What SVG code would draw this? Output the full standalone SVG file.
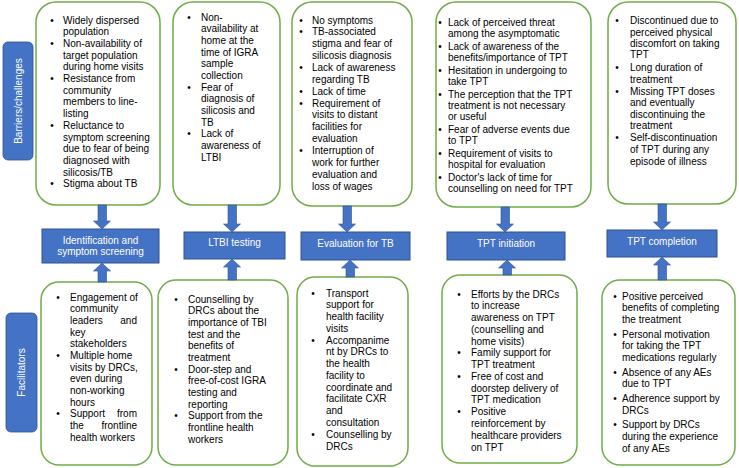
<svg xmlns="http://www.w3.org/2000/svg" width="739" height="468" viewBox="0 0 739 468">
<style>
.box{fill:#fff;stroke:#70AD47;stroke-width:1.5}
.stage{fill:#4472C4;stroke:#2F528F;stroke-width:1}
.side{fill:#4472C4;stroke:#2F528F;stroke-width:0.8}
.arr{fill:#4472C4;stroke:#2F528F;stroke-width:0.6}
text{font-family:"Liberation Sans",Arial,sans-serif;font-size:10px;fill:#000}
.w{fill:#fff}
.c{text-anchor:middle}
.e{text-anchor:end}
.b{text-anchor:middle}
</style>
<rect width="739" height="468" fill="#fff"/>

<g id="label-barriers">
<rect class="side" x="3" y="42" width="30" height="118" rx="5"/>
<text class="w c" transform="translate(21.5,101) rotate(-90)">Barriers/challenges</text>
</g>
<g id="label-facilitators">
<rect class="side" x="6" y="313" width="31" height="119" rx="5"/>
<text class="w c" transform="translate(25,372.5) rotate(-90)">Facilitators</text>
</g>

<g id="barrier-1">
<rect class="box" x="36" y="2" width="124" height="203" rx="20"/>
<text class="b" x="52" y="23.5">•</text><text class="b" x="52" y="46.9">•</text><text class="b" x="52" y="82">•</text><text class="b" x="52" y="128.8">•</text><text class="b" x="52" y="187.3">•</text>
<text x="63" y="23.5">Widely dispersed</text>
<text x="63" y="35.2">population</text>
<text x="63" y="46.9">Non-availability of</text>
<text x="63" y="58.6">target population</text>
<text x="63" y="70.3">during home visits</text>
<text x="63" y="82">Resistance from</text>
<text x="63" y="93.7">community</text>
<text x="63" y="105.4">members to line-</text>
<text x="63" y="117.1">listing</text>
<text x="63" y="128.8">Reluctance to</text>
<text x="63" y="140.5">symptom screening</text>
<text x="63" y="152.2">due to fear of being</text>
<text x="63" y="163.9">diagnosed with</text>
<text x="63" y="175.6">silicosis/TB</text>
<text x="63" y="187.3">Stigma about TB</text>
</g>

<g id="barrier-2">
<rect class="box" x="173" y="2" width="107" height="203" rx="20"/>
<text class="b" x="189" y="20.5">•</text><text class="b" x="189" y="90.5">•</text><text class="b" x="189" y="137.2">•</text>
<text x="201" y="20.5">Non-</text>
<text x="201" y="32.2">availability at</text>
<text x="201" y="43.8">home at the</text>
<text x="201" y="55.5">time of IGRA</text>
<text x="201" y="67.2">sample</text>
<text x="201" y="78.9">collection</text>
<text x="201" y="90.5">Fear of</text>
<text x="201" y="102.2">diagnosis of</text>
<text x="201" y="113.9">silicosis and</text>
<text x="201" y="125.5">TB</text>
<text x="201" y="137.2">Lack of</text>
<text x="201" y="148.9">awareness of</text>
<text x="201" y="160.5">LTBI</text>
</g>

<g id="barrier-3">
<rect class="box" x="292" y="2" width="120" height="204" rx="20"/>
<text class="b" x="301" y="23.5">•</text><text class="b" x="301" y="35.4">•</text><text class="b" x="301" y="71">•</text><text class="b" x="301" y="94.7">•</text><text class="b" x="301" y="106.5">•</text><text class="b" x="301" y="154">•</text>
<text x="312" y="23.5">No symptoms</text>
<text x="312" y="35.4">TB-associated</text>
<text x="312" y="47.2">stigma and fear of</text>
<text x="312" y="59.1">silicosis diagnosis</text>
<text x="312" y="71">Lack of awareness</text>
<text x="312" y="82.8">regarding TB</text>
<text x="312" y="94.7">Lack of time</text>
<text x="312" y="106.5">Requirement of</text>
<text x="312" y="118.4">visits to distant</text>
<text x="312" y="130.2">facilities for</text>
<text x="312" y="142.1">evaluation</text>
<text x="312" y="154">Interruption of</text>
<text x="312" y="165.8">work for further</text>
<text x="312" y="177.7">evaluation and</text>
<text x="312" y="189.5">loss of wages</text>
</g>

<g id="barrier-4">
<rect class="box" x="436" y="2" width="155" height="205" rx="20"/>
<text class="b" x="440" y="26">•</text><text class="b" x="440" y="50">•</text><text class="b" x="440" y="74">•</text><text class="b" x="440" y="98">•</text><text class="b" x="440" y="133">•</text><text class="b" x="440" y="157">•</text><text class="b" x="440" y="181">•</text>
<text x="448" y="26">Lack of perceived threat</text>
<text x="448" y="37">among the asymptomatic</text>
<text x="448" y="50">Lack of awareness of the</text>
<text x="448" y="61">benefits/importance of TPT</text>
<text x="448" y="74">Hesitation in undergoing to</text>
<text x="448" y="85">take TPT</text>
<text x="448" y="98">The perception that the TPT</text>
<text x="448" y="109">treatment is not necessary</text>
<text x="448" y="120">or useful</text>
<text x="448" y="133">Fear of adverse events due</text>
<text x="448" y="144">to TPT</text>
<text x="448" y="157">Requirement of visits to</text>
<text x="448" y="168">hospital for evaluation</text>
<text x="448" y="181">Doctor's lack of time for</text>
<text x="448" y="192">counselling on need for TPT</text>
</g>

<g id="barrier-5">
<rect class="box" x="608" y="2" width="128" height="202" rx="20"/>
<text class="b" x="617" y="23.5">•</text><text class="b" x="617" y="71.2">•</text><text class="b" x="617" y="95.2">•</text><text class="b" x="617" y="140.8">•</text>
<text x="630" y="23.5">Discontinued due to</text>
<text x="630" y="35.8">perceived physical</text>
<text x="630" y="46.8">discomfort on taking</text>
<text x="630" y="57.8">TPT</text>
<text x="630" y="71.2">Long duration of</text>
<text x="630" y="82.5">treatment</text>
<text x="630" y="95.2">Missing TPT doses</text>
<text x="630" y="106.2">and eventually</text>
<text x="630" y="117.5">discontinuing the</text>
<text x="630" y="128.5">treatment</text>
<text x="630" y="140.8">Self-discontinuation</text>
<text x="630" y="152.5">of TPT during any</text>
<text x="630" y="165.2">episode of illness</text>
</g>

<g id="stage-1">
<rect class="stage" x="42" y="229" width="117" height="34"/>
<text class="w c" x="100.5" y="243.5">Identification and</text>
<text class="w c" x="100.5" y="255">symptom screening</text>
</g>
<g id="stage-2">
<rect class="stage" x="184" y="232" width="101" height="27"/>
<text class="w c" x="234.5" y="246">LTBI testing</text>
</g>
<g id="stage-3">
<rect class="stage" x="301" y="232" width="109" height="28"/>
<text class="w c" x="355.5" y="246.5">Evaluation for TB</text>
</g>
<g id="stage-4">
<rect class="stage" x="447" y="232" width="118" height="28"/>
<text class="w c" x="506" y="246.5">TPT initiation</text>
</g>
<g id="stage-5">
<rect class="stage" x="607" y="230" width="110" height="27"/>
<text class="w c" x="662" y="244.5">TPT completion</text>
</g>

<g id="facilitator-1">
<rect class="box" x="41" y="282" width="111" height="183" rx="18"/>
<text class="b" x="58" y="300.5">•</text><text class="b" x="58" y="358.9">•</text><text class="b" x="58" y="417.2">•</text>
<text x="70" y="300.5">Engagement of</text>
<text x="70" y="312.2">community</text>
<text x="70" y="323.8">leaders</text><text class="e" x="137" y="323.8">and</text>
<text x="70" y="335.5">key</text>
<text x="70" y="347.2">stakeholders</text>
<text x="70" y="358.9">Multiple home</text>
<text x="70" y="370.5">visits by DRCs,</text>
<text x="70" y="382.2">even during</text>
<text x="70" y="393.9">non-working</text>
<text x="70" y="405.5">hours</text>
<text x="70" y="417.2">Support</text><text class="e" x="137" y="417.2">from</text>
<text x="70" y="428.9">the</text><text class="e" x="137" y="428.9">frontline</text>
<text x="70" y="440.5">health workers</text>
</g>

<g id="facilitator-2">
<rect class="box" x="158" y="280" width="130" height="185" rx="18"/>
<text class="b" x="176" y="302.5">•</text><text class="b" x="176" y="372.5">•</text><text class="b" x="176" y="419.2">•</text>
<text x="188" y="302.5">Counselling by</text>
<text x="188" y="314.2">DRCs about the</text>
<text x="188" y="325.8">importance of TBI</text>
<text x="188" y="337.5">test and the</text>
<text x="188" y="349.2">benefits of</text>
<text x="188" y="360.9">treatment</text>
<text x="188" y="372.5">Door-step and</text>
<text x="188" y="384.2">free-of-cost IGRA</text>
<text x="188" y="395.9">testing and</text>
<text x="188" y="407.5">reporting</text>
<text x="188" y="419.2">Support from the</text>
<text x="188" y="430.9">frontline health</text>
<text x="188" y="442.5">workers</text>
</g>

<g id="facilitator-3">
<rect class="box" x="297" y="277" width="111" height="189" rx="18"/>
<text class="b" x="313" y="296.5">•</text><text class="b" x="313" y="343.6">•</text><text class="b" x="313" y="437.7">•</text>
<text x="326" y="296.5">Transport</text>
<text x="326" y="308.3">support for</text>
<text x="326" y="320">health facility</text>
<text x="326" y="331.8">visits</text>
<text x="326" y="343.6">Accompanime</text>
<text x="326" y="355.4">nt by DRCs to</text>
<text x="326" y="367.1">the health</text>
<text x="326" y="378.9">facility to</text>
<text x="326" y="390.7">coordinate and</text>
<text x="326" y="402.4">facilitate CXR</text>
<text x="326" y="414.2">and</text>
<text x="326" y="426">consultation</text>
<text x="326" y="437.7">Counselling by</text>
<text x="326" y="449.5">DRCs</text>
</g>

<g id="facilitator-4">
<rect class="box" x="442" y="275" width="135" height="188" rx="18"/>
<text class="b" x="459" y="297.5">•</text><text class="b" x="459" y="356.4">•</text><text class="b" x="459" y="379.9">•</text><text class="b" x="459" y="415.2">•</text>
<text x="471" y="297.5">Efforts by the DRCs</text>
<text x="471" y="309.3">to increase</text>
<text x="471" y="321">awareness on TPT</text>
<text x="471" y="332.8">(counselling and</text>
<text x="471" y="344.6">home visits)</text>
<text x="471" y="356.4">Family support for</text>
<text x="471" y="368.1">TPT treatment</text>
<text x="471" y="379.9">Free of cost and</text>
<text x="471" y="391.7">doorstep delivery of</text>
<text x="471" y="403.4">TPT medication</text>
<text x="471" y="415.2">Positive</text>
<text x="471" y="427">reinforcement by</text>
<text x="471" y="438.7">healthcare providers</text>
<text x="471" y="450.5">on TPT</text>
</g>

<g id="facilitator-5">
<rect class="box" x="602" y="280" width="133" height="185" rx="18"/>
<text class="b" x="615" y="299.5">•</text><text class="b" x="615" y="337.5">•</text><text class="b" x="615" y="375.5">•</text><text class="b" x="615" y="401.8">•</text><text class="b" x="615" y="428.1">•</text>
<text x="622" y="299.5">Positive perceived</text>
<text x="622" y="311.2">benefits of completing</text>
<text x="622" y="322.9">the treatment</text>
<text x="622" y="337.5">Personal motivation</text>
<text x="622" y="349.2">for taking the TPT</text>
<text x="622" y="360.9">medications regularly</text>
<text x="622" y="375.5">Absence of any AEs</text>
<text x="622" y="387.2">due to TPT</text>
<text x="622" y="401.8">Adherence support by</text>
<text x="622" y="413.5">DRCs</text>
<text x="622" y="428.1">Support by DRCs</text>
<text x="622" y="439.8">during the experience</text>
<text x="622" y="451.5">of any AEs</text>
</g>

<g id="connectors">
<path class="arr" d="M98,205 H106.5 V221 H110.5 L102,229 L93.5,221 H98 Z"/>
<path class="arr" d="M228,205 H236.5 V224 H240.5 L232,232 L223.5,224 H228 Z"/>
<path class="arr" d="M343,206 H351.5 V224 H355.5 L347,232 L338.5,224 H343 Z"/>
<path class="arr" d="M501,207 H509.5 V224 H513.5 L505,232 L496.5,224 H501 Z"/>
<path class="arr" d="M658,204 H666.5 V222 H670.5 L662,230 L653.5,222 H658 Z"/>
<path class="arr" d="M98,282 V271 H93.5 L102,263 L110.5,271 H106.5 V282 Z"/>
<path class="arr" d="M228,280 V267 H223.5 L232,259 L240.5,267 H236.5 V280 Z"/>
<path class="arr" d="M346,277 V268 H341.5 L350,260 L358.5,268 H354.5 V277 Z"/>
<path class="arr" d="M503,275 V268 H498.5 L507,260 L515.5,268 H511.5 V275 Z"/>
<path class="arr" d="M658,280 V265 H653.5 L662,257 L670.5,265 H666.5 V280 Z"/>
</g>
</svg>
